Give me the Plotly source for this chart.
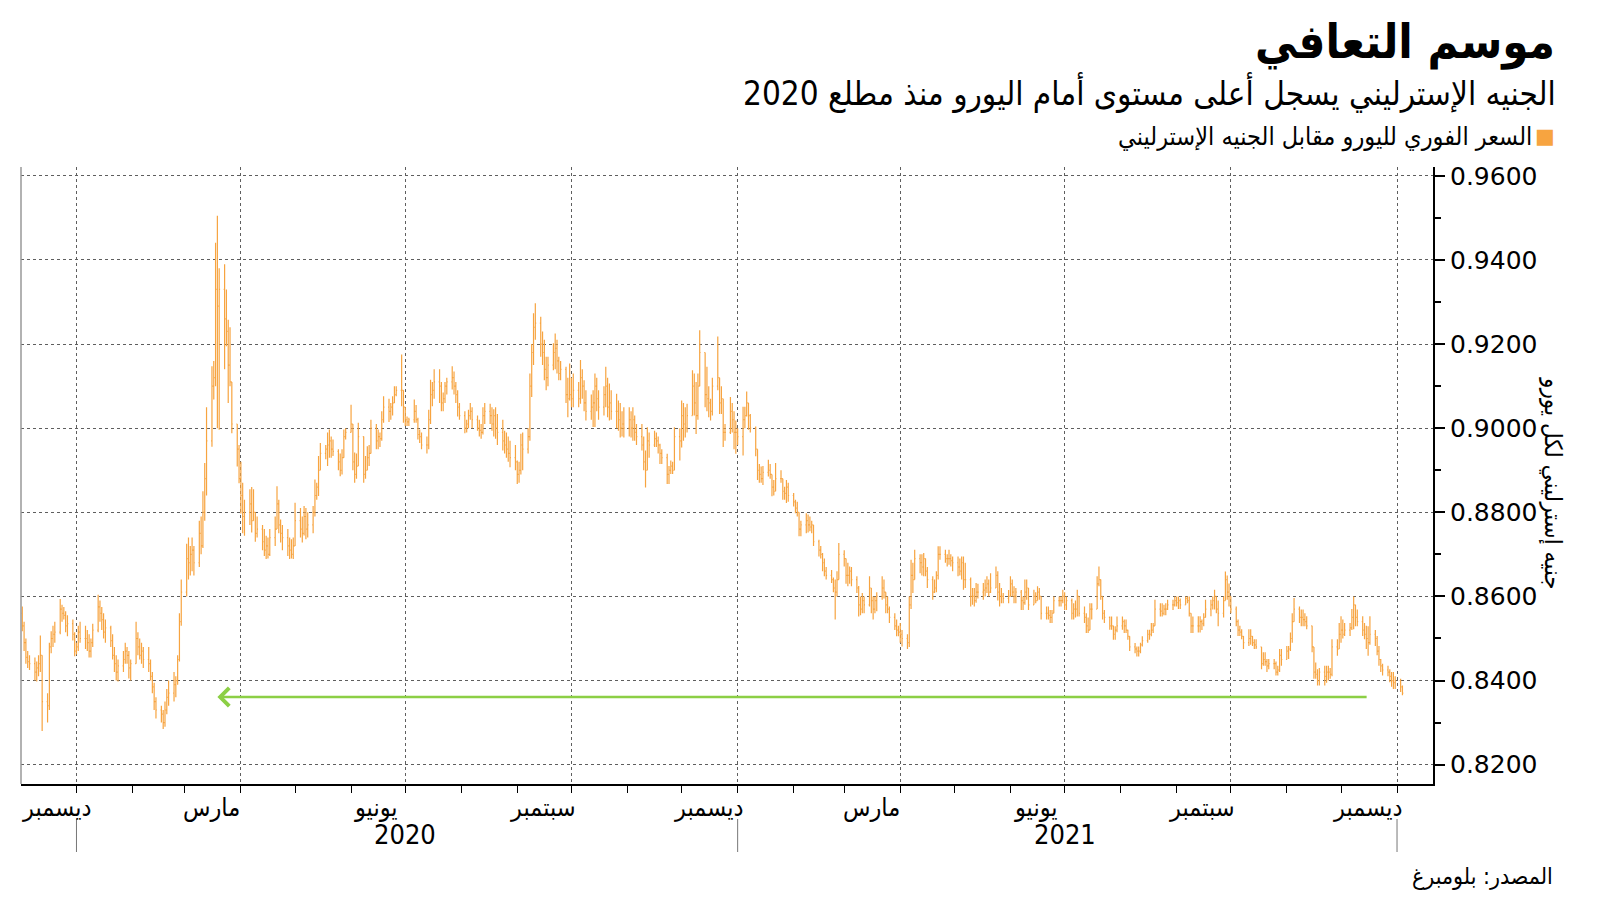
import pandas as pd
import plotly.graph_objects as go

# ---------------- data (EUR/GBP daily, values x 1e-4) ----------------
start_date = "2019-12-02"

opens = [
    8560, 8530, 8490, 8455, 8445,  8440, 8420, 8430, 8440, 8460,  8350, 8340, 8480, 8500, 8510,
    8515, 8570, 8560, 8555, 8530,  8535, 8510, 8470, 8480, 8515,  8500, 8500, 8490, 8470, 8490,
    8520, 8575, 8560, 8545, 8515,  8525, 8495, 8460, 8440, 8420,  8435, 8450, 8470, 8460, 8430,
    8440, 8500, 8480, 8460, 8470,  8450, 8440, 8410, 8385, 8350,  8330, 8320, 8300, 8330, 8360,
    8370, 8390, 8400, 8450, 8540,  8610, 8690, 8680, 8700, 8710,  8680, 8750, 8720, 8800, 8880,
    8970, 9100, 9120, 9330, 9290,  9330, 9260, 9230, 9150, 9110,  9010, 8950, 8880, 8840, 8790,
    8800, 8820, 8780, 8800, 8750,  8760, 8730, 8710, 8720, 8700,  8740, 8760, 8820, 8770, 8750,
    8740, 8720, 8710, 8700, 8720,  8780, 8760, 8750, 8790, 8760,  8770, 8800, 8840, 8860, 8900,
    8940, 8950, 8960, 8970, 8950,  8945, 8920, 8900, 8930, 8980,  8990, 9010, 8920, 8890, 8910,
    8980, 8890, 8900, 8930, 8940,  9000, 8970, 8980, 8975, 9020,  9050, 9040, 9050, 9060, 9080,
    9090, 9090, 9050, 9020, 9015,  9020, 9040, 9020, 8985, 8980,  8960, 8960, 9020, 9080, 9090,
    9110, 9100, 9060, 9070, 9100,  9110, 9120, 9100, 9080, 9050,  9030, 9000, 9010, 9030, 9040,
    9020, 9000, 8995, 8990, 9030,  9040, 9030, 9010, 9030, 9000,  8990, 8970, 8960, 8950, 8940,
    8930, 8920, 8890, 8900, 8960,  8950, 8980, 9100, 9180, 9240,  9250, 9200, 9180, 9140, 9120,
    9150, 9180, 9190, 9160, 9130,  9140, 9080, 9070, 9080, 9070,  9090, 9070, 9120, 9100, 9060,
    9040, 9050, 9060, 9100, 9070,  9050, 9080, 9100, 9050, 9060,  9040, 9040, 9020, 9000, 9010,
    9000, 9020, 9000, 9020, 8990,  8980, 8960, 8920, 8900, 8970,  8960, 8975, 8970, 8960, 8940,
    8930, 8890, 8900, 8910, 8900,  8980, 8970, 9030, 9010, 9000,  9030, 9100, 9060, 9030, 9100,
    9180, 9080, 9070, 9060, 9040,  9100, 9120, 9060, 9070, 8990,  8990, 9040, 9020, 8990, 8990,
    8980, 9020, 9030, 9060, 9030,  9000, 8950, 8900, 8890, 8880,  8895, 8900, 8890, 8860, 8850,
    8880, 8880, 8850, 8845, 8860,  8840, 8825, 8810, 8800, 8760,  8770, 8780, 8770, 8765, 8770,
    8730, 8710, 8700, 8680, 8660,  8650, 8640, 8620, 8610, 8640,  8700, 8690, 8650, 8650, 8660,
    8640, 8620, 8580, 8570, 8590,  8580, 8620, 8590, 8570, 8590,  8600, 8620, 8610, 8580, 8570,
    8550, 8530, 8520, 8515, 8510,  8500, 8490, 8580, 8650, 8640,  8690, 8680, 8670, 8690, 8660,
    8640, 8610, 8620, 8650, 8700,  8700, 8690, 8690, 8690, 8685,  8680, 8670, 8660, 8680, 8640,
    8640, 8600, 8600, 8590, 8610,  8610, 8615, 8620, 8630, 8610,  8620, 8650, 8610, 8600, 8600,
    8595, 8600, 8630, 8610, 8600,  8610, 8590, 8585, 8610, 8620,  8580, 8600, 8590, 8610, 8600,
    8560, 8560, 8555, 8550, 8560,  8590, 8590, 8590, 8600, 8580,  8590, 8560, 8570, 8570, 8600,
    8560, 8550, 8530, 8520, 8570,  8570, 8630, 8640, 8600, 8560,  8550, 8530, 8530, 8510, 8520,
    8530, 8540, 8530, 8520, 8505,  8480, 8475, 8470, 8470, 8485,  8495, 8510, 8510, 8520, 8530,
    8570, 8565, 8560, 8570, 8570,  8580, 8580, 8590, 8585, 8590,  8580, 8595, 8590, 8560, 8530,
    8530, 8530, 8540, 8535, 8550,  8570, 8580, 8590, 8600, 8570,  8560, 8590, 8640, 8610, 8600,
    8570, 8540, 8520, 8515, 8505,  8490, 8500, 8505, 8490, 8485,  8480, 8440, 8450, 8445, 8435,
    8440, 8440, 8420, 8425, 8460,  8450, 8470, 8475, 8500, 8540,  8570, 8550, 8550, 8545, 8540,
    8530, 8480, 8420, 8415, 8400,  8420, 8410, 8420, 8420, 8415,  8480, 8475, 8510, 8520, 8510,
    8520, 8525, 8550, 8580, 8550,  8540, 8520, 8510, 8500, 8490,  8510, 8500, 8470, 8450, 8435,
    8425, 8420, 8410, 8400, 8395,  8400, 8385,
]

highs = [
    8576, 8540, 8500, 8470, 8460,  8455, 8445, 8460, 8507, 8460,  8370, 8490, 8517, 8530, 8540,
    8594, 8580, 8575, 8565, 8555,  8545, 8515, 8490, 8530, 8540,  8530, 8520, 8510, 8500, 8535,
    8604, 8590, 8575, 8560, 8545,  8530, 8510, 8480, 8460, 8450,  8470, 8490, 8480, 8470, 8450,
    8540, 8515, 8500, 8490, 8480,  8480, 8450, 8420, 8395, 8360,  8340, 8330, 8350, 8380, 8400,
    8420, 8410, 8460, 8560, 8640,  8725, 8740, 8720, 8740, 8720,  8780, 8790, 8850, 8917, 9050,
    9147, 9160, 9441, 9505, 9380,  9390, 9330, 9258, 9240, 9110,  9010, 8960, 8920, 8870, 8830,
    8855, 8860, 8855, 8800, 8790,  8770, 8760, 8744, 8740, 8760,  8790, 8862, 8830, 8783, 8770,
    8760, 8740, 8736, 8740, 8823,  8810, 8790, 8815, 8810, 8800,  8815, 8878, 8870, 8934, 8965,
    8960, 8990, 8997, 8980, 8973,  8950, 8940, 8950, 8997, 9000,  9056, 9010, 8942, 8940, 9013,
    8980, 8934, 8957, 8960, 9020,  9010, 8997, 8990, 9040, 9076,  9070, 9060, 9076, 9100, 9100,
    9175, 9090, 9050, 9028, 9025,  9068, 9055, 9025, 8997, 8990,  8980, 9044, 9115, 9110, 9140,
    9140, 9110, 9085, 9110, 9120,  9147, 9135, 9110, 9090, 9060,  9040, 9020, 9044, 9060, 9050,
    9030, 9020, 9010, 9050, 9060,  9058, 9050, 9045, 9050, 9034,  9020, 8994, 8990, 8980, 8970,
    8960, 8923, 8920, 8987, 8990,  9000, 9130, 9200, 9273, 9297,  9265, 9230, 9210, 9170, 9170,
    9202, 9225, 9210, 9170, 9160,  9146, 9120, 9154, 9120, 9130,  9110, 9162, 9140, 9114, 9090,
    9080, 9090, 9130, 9120, 9090,  9100, 9146, 9120, 9106, 9090,  9082, 9066, 9060, 9040, 9050,
    9050, 9040, 9050, 9030, 9010,  9010, 8980, 8947, 9002, 8990,  8994, 8990, 8980, 8963, 8950,
    8939, 8910, 8923, 8920, 9002,  9000, 9066, 9060, 9050, 9058,  9138, 9130, 9110, 9130, 9233,
    9180, 9146, 9100, 9070, 9120,  9218, 9120, 9100, 9070, 9010,  9074, 9060, 9040, 9018, 9000,
    9051, 9051, 9087, 9060, 9034,  9004, 8950, 8915, 8909, 8910,  8925, 8915, 8890, 8877, 8917,
    8900, 8880, 8861, 8877, 8870,  8846, 8830, 8825, 8800, 8780,  8798, 8795, 8790, 8780, 8770,
    8735, 8720, 8703, 8690, 8670,  8663, 8645, 8640, 8660, 8727,  8710, 8690, 8680, 8671, 8670,
    8648, 8625, 8600, 8608, 8600,  8648, 8620, 8600, 8600, 8610,  8648, 8640, 8610, 8600, 8576,
    8560, 8545, 8530, 8537, 8520,  8510, 8600, 8687, 8680, 8711,  8700, 8700, 8703, 8690, 8670,
    8648, 8640, 8660, 8719, 8719,  8711, 8700, 8711, 8700, 8695,  8695, 8690, 8695, 8695, 8680,
    8645, 8620, 8620, 8632, 8630,  8632, 8640, 8648, 8640, 8655,  8671, 8660, 8632, 8620, 8608,
    8615, 8648, 8640, 8624, 8620,  8615, 8600, 8640, 8640, 8620,  8616, 8610, 8624, 8620, 8600,
    8576, 8576, 8568, 8568, 8600,  8600, 8600, 8616, 8610, 8600,  8595, 8584, 8590, 8616, 8600,
    8576, 8560, 8550, 8584, 8584,  8648, 8671, 8640, 8600, 8568,  8552, 8552, 8530, 8529, 8552,
    8552, 8545, 8545, 8521, 8505,  8489, 8481, 8481, 8490, 8505,  8521, 8521, 8537, 8537, 8592,
    8584, 8584, 8580, 8584, 8592,  8592, 8600, 8600, 8600, 8595,  8600, 8600, 8600, 8560, 8552,
    8553, 8553, 8545, 8560, 8592,  8592, 8600, 8616, 8600, 8590,  8600, 8659, 8650, 8631, 8600,
    8576, 8545, 8530, 8522, 8506,  8522, 8522, 8506, 8498, 8498,  8480, 8467, 8467, 8451, 8451,
    8451, 8445, 8435, 8475, 8475,  8482, 8482, 8514, 8560, 8596,  8576, 8569, 8569, 8560, 8553,
    8530, 8480, 8443, 8427, 8430,  8435, 8435, 8435, 8430, 8498,  8498, 8537, 8553, 8545, 8537,
    8537, 8570, 8600, 8580, 8569,  8553, 8537, 8530, 8529, 8553,  8520, 8506, 8482, 8451, 8440,
    8435, 8427, 8420, 8420, 8410,  8404, 8388,
]

lows = [
    8517, 8470, 8440, 8430, 8425,  8400, 8398, 8410, 8420, 8280,  8300, 8330, 8465, 8480, 8490,
    8510, 8540, 8545, 8515, 8505,  8495, 8458, 8462, 8470, 8490,  8475, 8470, 8455, 8455, 8480,
    8515, 8540, 8520, 8500, 8490,  8480, 8450, 8420, 8400, 8398,  8420, 8440, 8440, 8405, 8400,
    8440, 8460, 8450, 8440, 8430,  8420, 8400, 8370, 8330, 8310,  8300, 8285, 8290, 8320, 8340,
    8350, 8360, 8390, 8445, 8530,  8600, 8640, 8650, 8660, 8650,  8670, 8700, 8715, 8780, 8840,
    8956, 9068, 9100, 9000, 8996,  9140, 9195, 9060, 9100, 8988,  8909, 8869, 8797, 8750, 8744,
    8770, 8752, 8780, 8730, 8740,  8710, 8696, 8689, 8690, 8696,  8720, 8760, 8750, 8728, 8710,
    8696, 8689, 8690, 8689, 8720,  8740, 8728, 8745, 8736, 8740,  8750, 8790, 8830, 8839, 8900,
    8926, 8910, 8930, 8930, 8934,  8900, 8886, 8890, 8930, 8973,  8990, 8900, 8870, 8880, 8910,
    8870, 8880, 8900, 8910, 8940,  8950, 8950, 8955, 8970, 9013,  9015, 9020, 9030, 9060, 9076,
    9052, 9013, 9005, 9005, 9005,  9013, 9013, 8973, 8965, 8950,  8940, 8950, 9010, 9052, 9070,
    9060, 9040, 9040, 9060, 9080,  9092, 9080, 9060, 9028, 9020,  8988, 8990, 9000, 9020, 9000,
    8994, 8980, 8975, 8985, 9010,  9010, 8994, 8980, 8975, 8960,  8947, 8940, 8930, 8920, 8907,
    8900, 8867, 8870, 8890, 8900,  8940, 8970, 9074, 9150, 9210,  9170, 9150, 9114, 9090, 9100,
    9138, 9140, 9130, 9114, 9114,  9060, 9026, 9066, 9050, 9050,  9050, 9058, 9070, 9040, 9018,
    9020, 9003, 9003, 9040, 9020,  9030, 9050, 9026, 9018, 9020,  9000, 8994, 8978, 8980, 8978,
    8980, 8978, 8970, 8970, 8960,  8947, 8900, 8859, 8900, 8930,  8955, 8955, 8940, 8915, 8915,
    8867, 8867, 8891, 8891, 8900,  8923, 8954, 8970, 8978, 8990,  9030, 9030, 8986, 9020, 9100,
    9050, 9040, 9026, 9018, 9030,  9090, 9034, 9034, 8955, 8970,  8986, 8990, 8950, 8939, 8960,
    8935, 9000, 9028, 8996, 8990,  8933, 8877, 8870, 8870, 8865,  8885, 8880, 8838, 8840, 8850,
    8870, 8830, 8830, 8822, 8825,  8814, 8798, 8790, 8743, 8743,  8750, 8752, 8755, 8750, 8720,
    8695, 8690, 8660, 8648, 8640,  8632, 8610, 8545, 8600, 8640,  8671, 8630, 8624, 8630, 8624,
    8608, 8552, 8555, 8560, 8560,  8576, 8560, 8545, 8560, 8565,  8592, 8595, 8560, 8560, 8537,
    8520, 8505, 8505, 8490, 8481,  8475, 8480, 8570, 8608, 8640,  8655, 8650, 8648, 8648, 8620,
    8592, 8608, 8610, 8640, 8687,  8680, 8671, 8675, 8671, 8660,  8648, 8650, 8640, 8616, 8620,
    8576, 8580, 8576, 8585, 8595,  8592, 8600, 8608, 8600, 8608,  8620, 8590, 8576, 8584, 8584,
    8584, 8600, 8600, 8584, 8584,  8568, 8568, 8580, 8592, 8568,  8580, 8584, 8590, 8592, 8545,
    8545, 8545, 8537, 8537, 8560,  8576, 8576, 8584, 8568, 8568,  8545, 8545, 8550, 8552, 8552,
    8537, 8513, 8513, 8520, 8545,  8570, 8624, 8592, 8545, 8537,  8521, 8521, 8497, 8497, 8515,
    8521, 8513, 8513, 8497, 8470,  8465, 8457, 8457, 8465, 8481,  8490, 8497, 8505, 8513, 8530,
    8552, 8552, 8555, 8555, 8568,  8568, 8576, 8576, 8570, 8570,  8580, 8584, 8552, 8513, 8513,
    8514, 8514, 8520, 8529, 8550,  8553, 8569, 8569, 8560, 8529,  8550, 8590, 8592, 8576, 8560,
    8529, 8506, 8506, 8498, 8475,  8482, 8485, 8482, 8475, 8475,  8427, 8435, 8435, 8420, 8427,
    8427, 8412, 8412, 8420, 8435,  8450, 8451, 8470, 8490, 8540,  8537, 8529, 8529, 8529, 8522,
    8467, 8404, 8404, 8388, 8388,  8388, 8395, 8400, 8404, 8410,  8459, 8475, 8490, 8500, 8506,
    8506, 8520, 8522, 8529, 8529,  8506, 8498, 8475, 8459, 8485,  8482, 8460, 8435, 8420, 8412,
    8410, 8396, 8385, 8380, 8380,  8373, 8365,
]

closes = [
    8530, 8490, 8455, 8445, 8440,  8420, 8430, 8440, 8460, 8350,  8340, 8480, 8500, 8510, 8515,
    8570, 8560, 8555, 8530, 8535,  8510, 8470, 8480, 8515, 8500,  8500, 8490, 8470, 8490, 8520,
    8575, 8560, 8545, 8515, 8525,  8495, 8460, 8440, 8420, 8435,  8450, 8470, 8460, 8430, 8440,
    8500, 8480, 8460, 8470, 8450,  8440, 8410, 8385, 8350, 8330,  8320, 8300, 8330, 8360, 8370,
    8390, 8400, 8450, 8540, 8610,  8690, 8680, 8700, 8710, 8680,  8750, 8720, 8800, 8880, 8970,
    9100, 9120, 9330, 9290, 9330,  9260, 9230, 9150, 9110, 9010,  8950, 8880, 8840, 8790, 8800,
    8820, 8780, 8800, 8750, 8760,  8730, 8710, 8720, 8700, 8740,  8760, 8820, 8770, 8750, 8740,
    8720, 8710, 8700, 8720, 8780,  8760, 8750, 8790, 8760, 8770,  8800, 8840, 8860, 8900, 8940,
    8950, 8960, 8970, 8950, 8945,  8920, 8900, 8930, 8980, 8990,  9010, 8920, 8890, 8910, 8980,
    8890, 8900, 8930, 8940, 9000,  8970, 8980, 8975, 9020, 9050,  9040, 9050, 9060, 9080, 9090,
    9090, 9050, 9020, 9015, 9020,  9040, 9020, 8985, 8980, 8960,  8960, 9020, 9080, 9090, 9110,
    9100, 9060, 9070, 9100, 9110,  9120, 9100, 9080, 9050, 9030,  9000, 9010, 9030, 9040, 9020,
    9000, 8995, 8990, 9030, 9040,  9030, 9010, 9030, 9000, 8990,  8970, 8960, 8950, 8940, 8930,
    8920, 8890, 8900, 8960, 8950,  8980, 9100, 9180, 9240, 9250,  9200, 9180, 9140, 9120, 9150,
    9180, 9190, 9160, 9130, 9140,  9080, 9070, 9080, 9070, 9090,  9070, 9120, 9100, 9060, 9040,
    9050, 9060, 9100, 9070, 9050,  9080, 9100, 9050, 9060, 9040,  9040, 9020, 9000, 9010, 9000,
    9020, 9000, 9020, 8990, 8980,  8960, 8920, 8900, 8970, 8960,  8975, 8970, 8960, 8940, 8930,
    8890, 8900, 8910, 8900, 8980,  8970, 9030, 9010, 9000, 9030,  9100, 9060, 9030, 9100, 9180,
    9080, 9070, 9060, 9040, 9100,  9120, 9060, 9070, 8990, 8990,  9040, 9020, 8990, 8990, 8980,
    9020, 9030, 9060, 9030, 9000,  8950, 8900, 8890, 8880, 8895,  8900, 8890, 8860, 8850, 8880,
    8880, 8850, 8845, 8860, 8840,  8825, 8810, 8800, 8760, 8770,  8780, 8770, 8765, 8770, 8730,
    8710, 8700, 8680, 8660, 8650,  8640, 8620, 8610, 8640, 8700,  8690, 8650, 8650, 8660, 8640,
    8620, 8580, 8570, 8590, 8580,  8620, 8590, 8570, 8590, 8600,  8620, 8610, 8580, 8570, 8550,
    8530, 8520, 8515, 8510, 8500,  8490, 8580, 8650, 8640, 8690,  8680, 8670, 8690, 8660, 8640,
    8610, 8620, 8650, 8700, 8700,  8690, 8690, 8690, 8685, 8680,  8670, 8660, 8680, 8640, 8640,
    8600, 8600, 8590, 8610, 8610,  8615, 8620, 8630, 8610, 8620,  8650, 8610, 8600, 8600, 8595,
    8600, 8630, 8610, 8600, 8610,  8590, 8585, 8610, 8620, 8580,  8600, 8590, 8610, 8600, 8560,
    8560, 8555, 8550, 8560, 8590,  8590, 8590, 8600, 8580, 8590,  8560, 8570, 8570, 8600, 8560,
    8550, 8530, 8520, 8570, 8570,  8630, 8640, 8600, 8560, 8550,  8530, 8530, 8510, 8520, 8530,
    8540, 8530, 8520, 8505, 8480,  8475, 8470, 8470, 8485, 8495,  8510, 8510, 8520, 8530, 8570,
    8565, 8560, 8570, 8570, 8580,  8580, 8590, 8585, 8590, 8580,  8595, 8590, 8560, 8530, 8530,
    8530, 8540, 8535, 8550, 8570,  8580, 8590, 8600, 8570, 8560,  8590, 8640, 8610, 8600, 8570,
    8540, 8520, 8515, 8505, 8490,  8500, 8505, 8490, 8485, 8480,  8440, 8450, 8445, 8435, 8440,
    8440, 8420, 8425, 8460, 8450,  8470, 8475, 8500, 8540, 8570,  8550, 8550, 8545, 8540, 8530,
    8480, 8420, 8415, 8400, 8420,  8410, 8420, 8420, 8415, 8480,  8475, 8510, 8520, 8510, 8520,
    8525, 8550, 8580, 8550, 8540,  8520, 8510, 8500, 8490, 8510,  8500, 8470, 8450, 8435, 8425,
    8420, 8410, 8400, 8395, 8400,  8385, 8370,
]
value_scale = 10000.0

# axis labelling
gridline_dates = ["2020-01-01", "2020-04-01", "2020-07-01", "2020-10-01", "2021-01-01",
                  "2021-04-01", "2021-07-01", "2021-10-01", "2022-01-01"]
month_label_dates = ["2019-12-21", "2020-03-16", "2020-06-15", "2020-09-15", "2020-12-16",
                     "2021-03-16", "2021-06-15", "2021-09-15", "2021-12-16"]
month_labels = ["ديسمبر", "مارس", "يونيو", "سبتمبر", "ديسمبر", "مارس", "يونيو", "سبتمبر", "ديسمبر"]
year_label_dates = ["2020-07-01", "2021-07-01"]
year_labels = ["2020", "2021"]
year_bounds = ["2020-01-01", "2021-01-01", "2022-01-01"]
y_tick_values = [0.82, 0.84, 0.86, 0.88, 0.90, 0.92, 0.94, 0.96]

arrow_level = 0.8361
arrow_tail_date = "2021-12-16"
arrow_tip_date = "2020-03-19"

title_text = "موسم التعافي"
subtitle_text = "الجنيه الإسترليني يسجل أعلى مستوى أمام اليورو منذ مطلع 2020"
legend_text = "السعر الفوري لليورو مقابل الجنيه الإسترليني"
y_title_text = "جنيه إسترليني لكل يورو"
source_text = "المصدر: بلومبرغ"

# ---------------- styling / layout ----------------
ORANGE = "#F7A440"
GREEN = "#8CCF45"
GRID = "#5e5e5e"
AR_FONT = "DejaVu Sans Condensed, DejaVu Sans, sans-serif"
NUM_FONT = "DejaVu Sans, sans-serif"

W, H = 1600, 901
ML, MR, MT, MB = 21, 167, 167, 117
PW, PH = W - ML - MR, H - MT - MB


def pxx(x):
    return (x - ML) / PW


def pxy(y):
    return (H - MB - y) / PH


dates = pd.bdate_range(start_date, periods=len(closes))

fig = go.Figure(
    go.Ohlc(
        x=dates,
        open=[v / value_scale for v in opens],
        high=[v / value_scale for v in highs],
        low=[v / value_scale for v in lows],
        close=[v / value_scale for v in closes],
        increasing=dict(line=dict(color=ORANGE, width=1.2)),
        decreasing=dict(line=dict(color=ORANGE, width=1.2)),
        tickwidth=0.5,
        hoverinfo="skip",
        showlegend=False,
    )
)

annotations = [
    dict(text="<b>" + title_text + "</b>", x=pxx(1557), y=pxy(42), xref="paper", yref="paper",
         xanchor="right", yanchor="middle", showarrow=False,
         font=dict(family=AR_FONT, size=47, color="#000")),
    dict(text=subtitle_text, x=pxx(1558), y=pxy(93), xref="paper", yref="paper",
         xanchor="right", yanchor="middle", showarrow=False,
         font=dict(family=AR_FONT, size=33, color="#000")),
    dict(text="■", x=pxx(1557), y=pxy(136), xref="paper", yref="paper",
         xanchor="right", yanchor="middle", showarrow=False,
         font=dict(family=NUM_FONT, size=21, color=ORANGE)),
    dict(text=legend_text, x=pxx(1534), y=pxy(137), xref="paper", yref="paper",
         xanchor="right", yanchor="middle", showarrow=False,
         font=dict(family=AR_FONT, size=25, color="#000")),
    dict(text=y_title_text, x=pxx(1553), y=pxy(483), xref="paper", yref="paper",
         xanchor="center", yanchor="middle", showarrow=False, textangle=90,
         font=dict(family=AR_FONT, size=24, color="#000")),
    dict(text=source_text, x=pxx(1555), y=pxy(876), xref="paper", yref="paper",
         xanchor="right", yanchor="middle", showarrow=False,
         font=dict(family=AR_FONT, size=23, color="#000")),
    dict(x=arrow_tip_date, y=arrow_level, xref="x", yref="y",
         ax=arrow_tail_date, ay=arrow_level, axref="x", ayref="y",
         showarrow=True, arrowhead=4, arrowsize=1.4, arrowwidth=2.5,
         arrowcolor=GREEN, text=""),
]
for d, lab in zip(month_label_dates, month_labels):
    annotations.append(dict(text=lab, x=d, y=pxy(807), xref="x", yref="paper",
                            xanchor="center", yanchor="middle", showarrow=False,
                            font=dict(family=AR_FONT, size=25, color="#000")))
for d, lab in zip(year_label_dates, year_labels):
    annotations.append(dict(text=lab, x=d, y=pxy(834), xref="x", yref="paper",
                            xanchor="center", yanchor="middle", showarrow=False,
                            font=dict(family=AR_FONT, size=27, color="#000")))

shapes = [dict(type="line", xref="paper", yref="paper", x0=0, x1=0, y0=0, y1=1,
               line=dict(color="#999999", width=1.5))]
for d in year_bounds:
    shapes.append(dict(type="line", xref="x", yref="paper", x0=d, x1=d,
                       y0=pxy(819), y1=pxy(852), line=dict(color="#777777", width=1)))

fig.update_layout(
    width=W, height=H,
    margin=dict(l=ML, r=MR, t=MT, b=MB),
    paper_bgcolor="white", plot_bgcolor="white",
    showlegend=False,
    annotations=annotations,
    shapes=shapes,
    xaxis=dict(
        type="date", range=["2019-12-01 07:00", "2022-01-20 22:00"],
        rangeslider=dict(visible=False),
        tickmode="array", tickvals=gridline_dates, showticklabels=False,
        ticks="outside", ticklen=7, tickwidth=1, tickcolor="#000",
        showgrid=True, gridcolor=GRID, griddash="dot", gridwidth=1,
        showline=True, linecolor="#000", linewidth=2, zeroline=False,
        minor=dict(ticks="outside", ticklen=7, tickwidth=1, tickcolor="#000",
                   dtick="M1", tick0="2020-01-01", showgrid=False),
    ),
    yaxis=dict(
        side="right", range=[0.8154, 0.9621],
        tickmode="array", tickvals=y_tick_values, tickformat=".4f",
        ticks="outside", ticklen=10, tickwidth=2, tickcolor="#000",
        tickfont=dict(family=NUM_FONT, size=25, color="#000"),
        showgrid=True, gridcolor=GRID, griddash="dot", gridwidth=1,
        showline=True, linecolor="#000", linewidth=2, zeroline=False,
        minor=dict(ticks="outside", ticklen=6, tickwidth=1.5, tickcolor="#000",
                   dtick=0.01, tick0=0.81, showgrid=False),
    ),
)

fig.write_html("out.html")
